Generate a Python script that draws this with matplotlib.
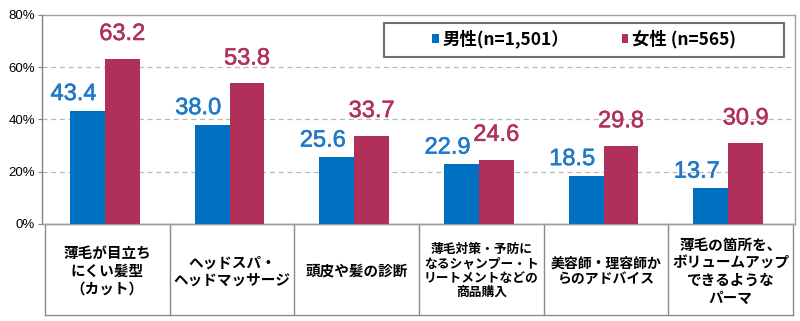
import matplotlib.pyplot as plt
from matplotlib.patches import Rectangle
import matplotlib.patheffects as pe
import numpy as np

plt.rcParams['font.family'] = ['Liberation Sans', 'Noto Sans CJK JP', 'DejaVu Sans']

categories = [
    "薄毛が目立ち\nにくい髪型\n（カット）",
    "ヘッドスパ・\nヘッドマッサージ",
    "頭皮や髪の診断",
    "薄毛対策・予防に\nなるシャンプー・ト\nリートメントなどの\n商品購入",
    "美容師・理容師か\nらのアドバイス",
    "薄毛の箇所を、\nボリュームアップ\nできるような\nパーマ",
]
male = [43.4, 38.0, 25.6, 22.9, 18.5, 13.7]
female = [63.2, 53.8, 33.7, 24.6, 29.8, 30.9]
series_names = ["男性(n=1,501）", "女性 (n=565)"]
yticks = [0, 20, 40, 60, 80]

c_male = '#0070C0'
c_female = '#B0305A'
lab_male = '#1F78C8'
lab_female = '#B0305E'

fig = plt.figure(figsize=(8, 3.21), dpi=100)
ax = fig.add_axes([42 / 800, 1 - 224 / 321, 753 / 800, 209 / 321])

x = np.arange(len(categories))
w = 0.28
ax.bar(x - w / 2 - 0.02, male, w, color=c_male, label=series_names[0], zorder=3)
ax.bar(x + w / 2 - 0.02, female, w, color=c_female, label=series_names[1], zorder=3)

for i in range(len(categories)):
    t1 = ax.annotate(f"{male[i]:.1f}", (x[i] - w / 2 - 0.02, male[i]), xytext=(-10, 4),
                     textcoords='offset points', ha='center', va='bottom',
                     fontsize=17, color=lab_male)
    t2 = ax.annotate(f"{female[i]:.1f}", (x[i] + w / 2 - 0.02, female[i]), xytext=(0, 10),
                     textcoords='offset points', ha='center', va='bottom',
                     fontsize=17, color=lab_female)
    t1.set_path_effects([pe.withStroke(linewidth=0.4, foreground=lab_male)])
    t2.set_path_effects([pe.withStroke(linewidth=0.4, foreground=lab_female)])

ax.set_ylim(0, 80)
ax.set_xlim(-0.524, 5.516)
ax.set_yticks(yticks)
ax.set_yticklabels([f"{t}%" for t in yticks], fontsize=9.5)
ax.set_xticks([])
ax.tick_params(axis='y', length=3, color='#808080', pad=2)
for t in yticks[1:-1]:
    ax.axhline(t, color='#b8b8b8', lw=0.9, ls=(0, (4, 3)), zorder=1)
for s in ax.spines.values():
    s.set_color('#a0a0a0')
    s.set_linewidth(1.0)
ax.spines['left'].set_color('#808080')

# category table below the axis
xt = ax.get_xaxis_transform()
tb = -91 / 209
bounds = np.arange(len(categories) + 1) - 0.5
for b in bounds:
    ax.plot([b, b], [0, tb], transform=xt, color='#8a8a8a', lw=1.0, clip_on=False)
ax.plot([bounds[0], bounds[-1]], [tb, tb], transform=xt, color='#8a8a8a', lw=1.0, clip_on=False)
ax.plot([bounds[0], bounds[-1]], [0, 0], transform=xt, color='#8a8a8a', lw=1.0, clip_on=False)
label_sizes = [10.5, 10.5, 10.5, 9.2, 10.0, 10.5]
for i, c in enumerate(categories):
    ax.text(x[i], -0.225, c, transform=xt, ha='center', va='center',
            fontsize=label_sizes[i], fontweight='bold', linespacing=1.12,
            family=['Noto Sans CJK JP', 'DejaVu Sans'])

# legend with its own box
ax.add_patch(Rectangle((0.454, 0.799), 0.532, 0.163, transform=ax.transAxes,
                       facecolor='white', edgecolor='#707070', lw=1.5, zorder=5,
                       clip_on=False))
leg = ax.legend(loc='center', bbox_to_anchor=(0.72, 0.885), ncol=2,
                frameon=False, handlelength=0.4, handleheight=0.4,
                handletextpad=0.2, columnspacing=3.0, borderaxespad=0,
                prop={'family': ['Noto Sans CJK JP'], 'weight': 'bold', 'size': 12.5})
leg.set_zorder(6)

fig.savefig('out.png', dpi=100)
